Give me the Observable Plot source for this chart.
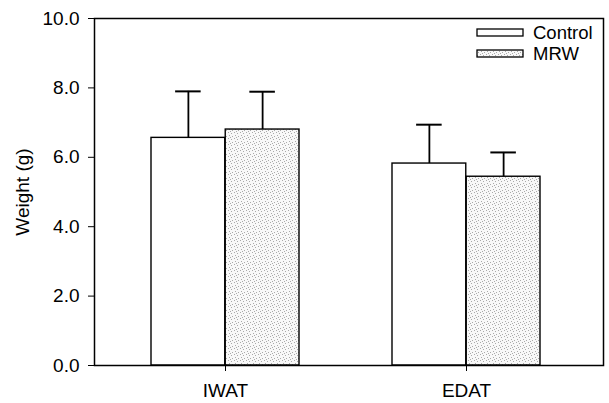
<!DOCTYPE html>
<html><head><meta charset="utf-8">
<script src="https://cdn.jsdelivr.net/npm/d3@7"></script>
<script src="https://cdn.jsdelivr.net/npm/@observablehq/plot@0.6"></script>
<style>
body{margin:0;background:#fff;}
#wrap{position:relative;width:609px;height:403px;font-family:"Liberation Sans",Arial,sans-serif;}
#legend{position:absolute;left:0;top:0;}
</style></head><body><div id="wrap"></div>
<script>
// ---- data ----
const categories = ["IWAT", "EDAT"];
const series = ["Control", "MRW"];
const controlMean = [6.56, 5.82];
const controlSD = [1.34, 1.12];
const mrwMean = [6.80, 5.44];
const mrwSD = [1.09, 0.70];
const yTicks = [0, 2, 4, 6, 8, 10];
const yLabel = "Weight (g)";

const control = categories.map((c, i) => ({category: c, group: series[0], mean: controlMean[i], sd: controlSD[i]}));
const mrw = categories.map((c, i) => ({category: c, group: series[1], mean: mrwMean[i], sd: mrwSD[i]}));

const W = 609, H = 403;
const mL = 94, mR = 6, mT = 18, mB = 38;
const PI = 0.384, PO = 0.248, AL = 0.474;
const bw = d3.scaleBand().domain(categories).range([mL, W - mR]).paddingInner(PI).paddingOuter(PO).align(AL).bandwidth();
const capHalf = 13;
const font = "'Liberation Sans', Arial, Helvetica, sans-serif";

const chart = Plot.plot({
  width: W, height: H,
  marginTop: mT, marginBottom: mB, marginLeft: mL, marginRight: mR,
  style: {fontFamily: font, fontSize: "19px", color: "black", background: "white"},
  x: {domain: categories, paddingInner: PI, paddingOuter: PO, align: AL},
  y: {domain: [0, 10]},
  marks: [
    Plot.axisY(yTicks, {tickFormat: d3.format(".1f"), tickSize: 6, tickPadding: 9, fontSize: 19, label: null}),
    Plot.axisX({tickSize: 6, tickPadding: 12, fontSize: 19, label: null}),
    Plot.barY(control, {x: "category", y: "mean", insetRight: bw / 2, fill: "white", stroke: "black", strokeWidth: 1.4}),
    Plot.barY(mrw, {x: "category", y: "mean", insetLeft: bw / 2, fill: "url(#mrwPattern)", stroke: "black", strokeWidth: 1.4}),
    Plot.ruleX(control, {x: "category", y1: "mean", y2: d => d.mean + d.sd, dx: -bw / 4, stroke: "black", strokeWidth: 1.8}),
    Plot.ruleX(mrw, {x: "category", y1: "mean", y2: d => d.mean + d.sd, dx: bw / 4, stroke: "black", strokeWidth: 1.8}),
    Plot.tickY(control, {x: "category", y: d => d.mean + d.sd, insetLeft: bw / 4 - capHalf, insetRight: 3 * bw / 4 - capHalf, stroke: "black", strokeWidth: 2}),
    Plot.tickY(mrw, {x: "category", y: d => d.mean + d.sd, insetLeft: 3 * bw / 4 - capHalf, insetRight: bw / 4 - capHalf, stroke: "black", strokeWidth: 2}),
    Plot.text([yLabel], {text: d => d, frameAnchor: "left", textAnchor: "middle", lineAnchor: "middle", rotate: -90, dx: -72, fontSize: 19, fill: "black"}),
    Plot.frame({stroke: "black", strokeWidth: 1.5})
  ]
});

function addPattern(svgSel) {
  const defs = svgSel.insert("defs", ":first-child");
  const p = defs.append("pattern").attr("id", "mrwPattern").attr("patternUnits", "userSpaceOnUse")
    .attr("width", 6).attr("height", 6);
  p.append("rect").attr("width", 6).attr("height", 6).attr("fill", "#f8f8f8");
  [[0,0],[3,1],[1,3],[4,4],[2,5]].forEach(([x, y]) =>
    p.append("rect").attr("x", x).attr("y", y).attr("width", 1).attr("height", 1).attr("fill", "#aaaaaa"));
}
addPattern(d3.select(chart));
document.getElementById("wrap").appendChild(chart);

// legend overlay
const lg = d3.select("#wrap").append("svg").attr("id", "legend").attr("width", W).attr("height", 80);
const fills = ["white", "url(#mrwPattern)"];
series.forEach((s, i) => {
  lg.append("rect").attr("x", 477).attr("y", 29 + 21 * i).attr("width", 46).attr("height", 7)
    .attr("fill", fills[i]).attr("stroke", "black").attr("stroke-width", 1.3);
  lg.append("text").attr("x", 533).attr("y", 33 + 21 * i).attr("dy", "0.35em")
    .attr("font-family", font).attr("font-size", 18.5).attr("fill", "black").text(s);
});
</script></body></html>
